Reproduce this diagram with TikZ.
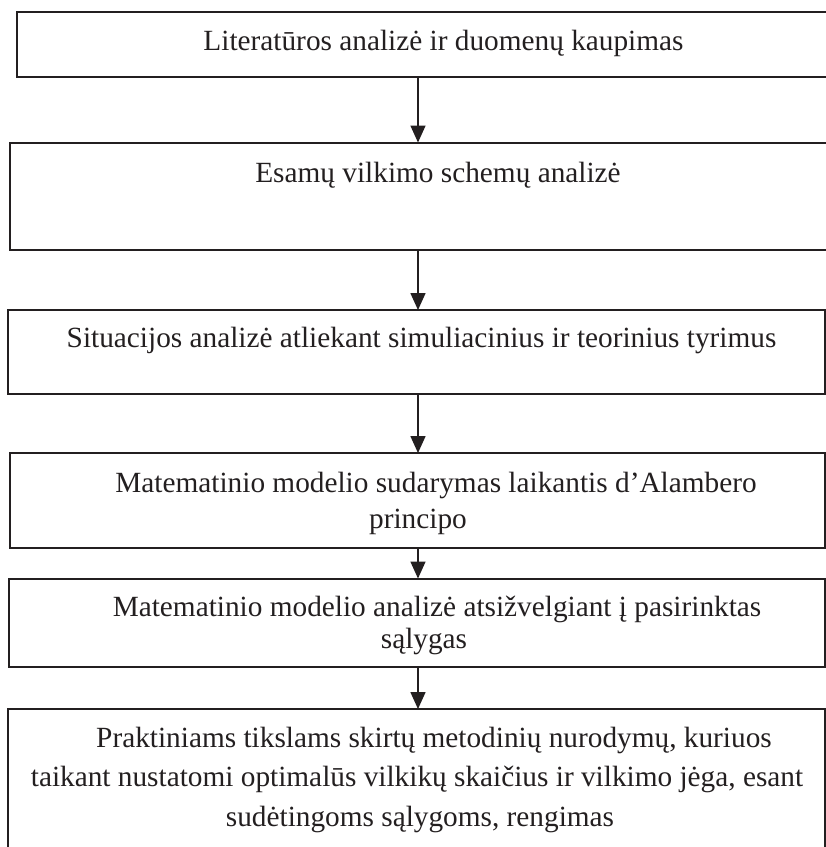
\documentclass[tikz,border=0pt]{standalone}
\usepackage{fontspec}
\setmainfont{Liberation Serif}
\usetikzlibrary{arrows.meta}
\definecolor{ink}{HTML}{231F20}
\begin{document}
\begin{tikzpicture}[x=1pt,y=-1pt,
  stagebox/.style={draw=ink,line width=2pt,inner sep=0pt,outer sep=0pt,anchor=north west},
  caption/.style={anchor=base,inner sep=0pt,text=ink,font=\fontsize{29.3}{36}\selectfont},
  flow/.style={draw=ink,line width=1.6pt,-{Triangle[width=15pt,length=17pt]}}]
  \clip (0,0) rectangle (826,847);
  \coordinate (ax) at (418,0);
  % stage boxes
  \node[stagebox,minimum width=815pt,minimum height=65pt]  (b1) at (16.5,12)  {};
  \node[stagebox,minimum width=822pt,minimum height=107.5pt] (b2) at (10,142.5) {};
  \node[stagebox,minimum width=817pt,minimum height=84pt]  (b3) at (8,310)    {};
  \node[stagebox,minimum width=815pt,minimum height=94.5pt] (b4) at (10,453)  {};
  \node[stagebox,minimum width=816pt,minimum height=88.5pt] (b5) at (9,578.5) {};
  \node[stagebox,minimum width=817pt,minimum height=160pt] (b6) at (8,709)    {};
  % captions
  \node[caption] (t1)  at (443.5,50)  {Literatūros analizė ir duomenų kaupimas};
  \node[caption] (t2)  at (438,182)   {Esamų vilkimo schemų analizė};
  \node[caption] (t3)  at (421.5,347) {Situacijos analizė atliekant simuliacinius ir teorinius tyrimus};
  \node[caption] (t4a) at (436,492)   {Matematinio modelio sudarymas laikantis d’Alambero};
  \node[caption] (t4b) at (418,528)   {principo};
  \node[caption] (t5a) at (437,616)   {Matematinio modelio analizė atsižvelgiant į pasirinktas};
  \node[caption] (t5b) at (424,648)   {sąlygas};
  \node[caption] (t6a) at (434,747)   {Praktiniams tikslams skirtų metodinių nurodymų, kuriuos};
  \node[caption] (t6b) at (417,786)   {taikant nustatomi optimalūs vilkikų skaičius ir vilkimo jėga, esant};
  \node[caption] (t6c) at (420,826)   {sudėtingoms sąlygoms, rengimas};
  % connectors
  \draw[flow] (b1.south -| ax) -- (b2.north -| ax);
  \draw[flow] (b2.south -| ax) -- (b3.north -| ax);
  \draw[flow] (b3.south -| ax) -- (b4.north -| ax);
  \draw[flow] (b4.south -| ax) -- (b5.north -| ax);
  \draw[flow] (b5.south -| ax) -- (b6.north -| ax);
\end{tikzpicture}
\end{document}
